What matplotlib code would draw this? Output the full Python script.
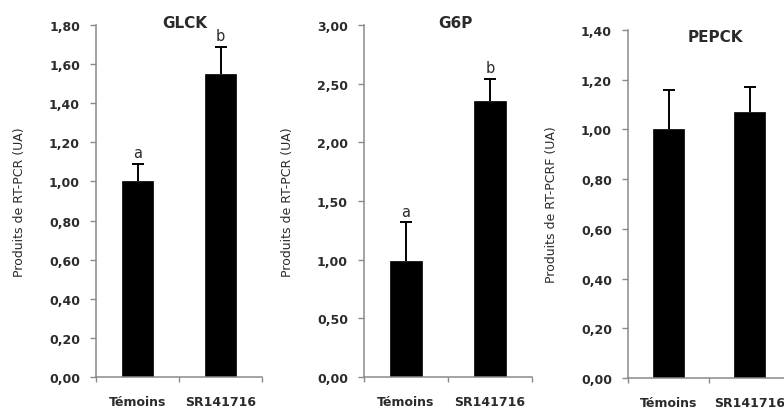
import matplotlib
matplotlib.use("Agg")
import matplotlib.pyplot as plt
from matplotlib.ticker import FixedLocator, FuncFormatter

# ---- data ----
categories = ["Témoins", "SR141716"]

glck_values = [1.00, 1.55]
glck_errors = [0.09, 0.14]
glck_letters = ["a", "b"]

g6p_values = [0.99, 2.35]
g6p_errors = [0.33, 0.19]
g6p_letters = ["a", "b"]

pepck_values = [1.00, 1.07]
pepck_errors = [0.16, 0.10]
pepck_letters = ["", ""]

titles = ["GLCK", "G6P", "PEPCK"]
ylabels = ["Produits de RT-PCR (UA)", "Produits de RT-PCR (UA)", "Produits de RT-PCRF (UA)"]
ymaxes = [1.80, 3.00, 1.40]
ysteps = [0.20, 0.50, 0.20]

W, H = 784, 414
fig = plt.figure(figsize=(W / 100, H / 100), dpi=100)
fig.patch.set_facecolor("white")

# pixel boxes: left, right, top, bottom
boxes = [(96, 262, 26, 378), (364, 532, 26, 378), (628, 790, 31, 379)]
title_pos = [(185, 23), (455, 23), (715, 38)]
ylabel_x = [20, 287, 552]

spine_col = "#8a8a8a"
text_col = "#2b2b2b"

panels = [
    (glck_values, glck_errors, glck_letters),
    (g6p_values, g6p_errors, g6p_letters),
    (pepck_values, pepck_errors, pepck_letters),
]

for i, (vals, errs, letters) in enumerate(panels):
    l, r, t, b = boxes[i]
    ax = fig.add_axes([l / W, (H - b) / H, (r - l) / W, (b - t) / H])
    x = list(range(len(categories)))
    ax.bar(x, vals, width=0.38, color="black", edgecolor="black", linewidth=0.5, zorder=2)
    eb = ax.errorbar(x, vals, yerr=[[0] * len(errs), errs], fmt="none", ecolor="black",
                     elinewidth=1.4, capsize=4, capthick=1.4, zorder=3)
    caps = eb[1]
    if len(caps) >= 2:
        caps[0].set_visible(False)  # hide lower caps (at bar top)
    for xi, v, e, lt in zip(x, vals, errs, letters):
        if lt:
            ax.annotate(lt, (xi, v + e), xytext=(0, 8), textcoords="offset points",
                        ha="center", va="center", fontsize=10.5, color=text_col)
    ax.set_xlim(-0.5, 1.5)
    ax.set_ylim(0, ymaxes[i])
    n = int(round(ymaxes[i] / ysteps[i]))
    yt = [k * ysteps[i] for k in range(n + 1)]
    ax.yaxis.set_major_locator(FixedLocator(yt))
    ax.yaxis.set_major_formatter(FuncFormatter(lambda v, p: f"{v:.2f}".replace(".", ",")))
    ax.set_xticks(x)
    ax.set_xticklabels(categories)
    ax.set_xticks([-0.5, 0.5, 1.5], minor=True)
    for s in ["top", "right"]:
        ax.spines[s].set_visible(False)
    for s in ["left", "bottom"]:
        ax.spines[s].set_color(spine_col)
        ax.spines[s].set_linewidth(1.1)
    ax.tick_params(axis="y", direction="out", length=4.5, width=1.0, color=spine_col,
                   pad=7, labelsize=9, labelcolor=text_col)
    for lab in ax.get_yticklabels():
        lab.set_fontweight("bold")
    ax.tick_params(axis="x", which="major", length=0, pad=13, labelsize=9, labelcolor=text_col)
    ax.tick_params(axis="x", which="minor", direction="out", length=3.5, width=1.0, color=spine_col)
    for lab in ax.get_xticklabels():
        lab.set_fontweight("bold")
    ax.set_facecolor("white")
    # title
    tx, ty = title_pos[i]
    fig.text(tx / W, (H - ty) / H, titles[i], ha="center", va="center",
             fontsize=11, fontweight="bold", color=text_col)
    # y label
    fig.text(ylabel_x[i] / W, (H - (t + b) / 2) / H, ylabels[i], rotation=90,
             ha="center", va="center", fontsize=9, color=text_col)

fig.savefig("out.png", dpi=100, facecolor="white")
